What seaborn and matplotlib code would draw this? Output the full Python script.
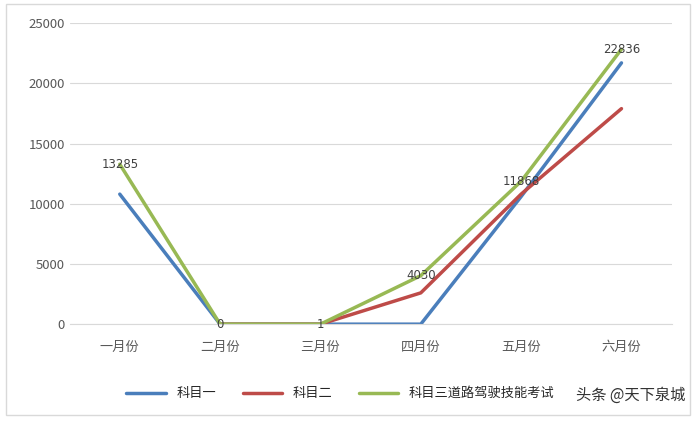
import matplotlib
matplotlib.use("Agg")
import numpy as np
import pandas as pd
import seaborn as sns
import matplotlib.pyplot as plt

months = ["一月份", "二月份", "三月份", "四月份", "五月份", "六月份"]
km1 = [10800, 0, 0, 0, 10600, 21700]
km2 = [np.nan, 0, 0, 2600, 10800, 17900]
km3 = [13285, 0, 1, 4030, 11868, 22836]
names = ["科目一", "科目二", "科目三道路驾驶技能考试"]
colors = ["#4a7ebb", "#be4b48", "#98b954"]

rows = []
for n, vals in zip(names, [km1, km2, km3]):
    for m, v in zip(months, vals):
        rows.append({"month": m, "value": v, "series": n})
df = pd.DataFrame(rows)

sns.set_style("white")
plt.rcParams['font.family'] = ['Noto Sans CJK SC', 'DejaVu Sans']

fig = plt.figure(figsize=(6.96, 4.21), dpi=100)
ax = fig.add_axes([0.1, 0.23, 0.865, 0.715])
sns.lineplot(data=df, x="month", y="value", hue="series", palette=colors,
             linewidth=2.5, sort=False, ax=ax)
for i, v in enumerate(km3):
    ax.text(i, v, str(v), ha="center", va="center", fontsize=8.5, color="#404040",
            family="DejaVu Sans")
ax.set_ylim(0, 25000)
ax.set_xlim(-0.5, 5.5)
ax.set_yticks(range(0, 25001, 5000))
ax.yaxis.grid(True, color="#d9d9d9")
for s in ax.spines.values():
    s.set_visible(False)
ax.spines["bottom"].set_visible(True)
ax.spines["bottom"].set_color("#d9d9d9")
ax.tick_params(labelsize=9.5, colors="#595959", length=0)
ax.tick_params(axis="x", pad=12)
ax.set_xlabel("")
ax.set_ylabel("")
ax.legend(loc="upper center", bbox_to_anchor=(0.45, -0.17), ncol=3, frameon=False,
          fontsize=9.5, handlelength=3)
fig.patches.append(plt.Rectangle((0.008, 0.015), 0.984, 0.975, transform=fig.transFigure,
                                 fill=False, edgecolor="#d9d9d9", linewidth=1))
fig.text(0.985, 0.04, "头条 @天下泉城", ha="right", va="bottom", fontsize=11, color="#333333")
fig.savefig("out.png", dpi=100)
